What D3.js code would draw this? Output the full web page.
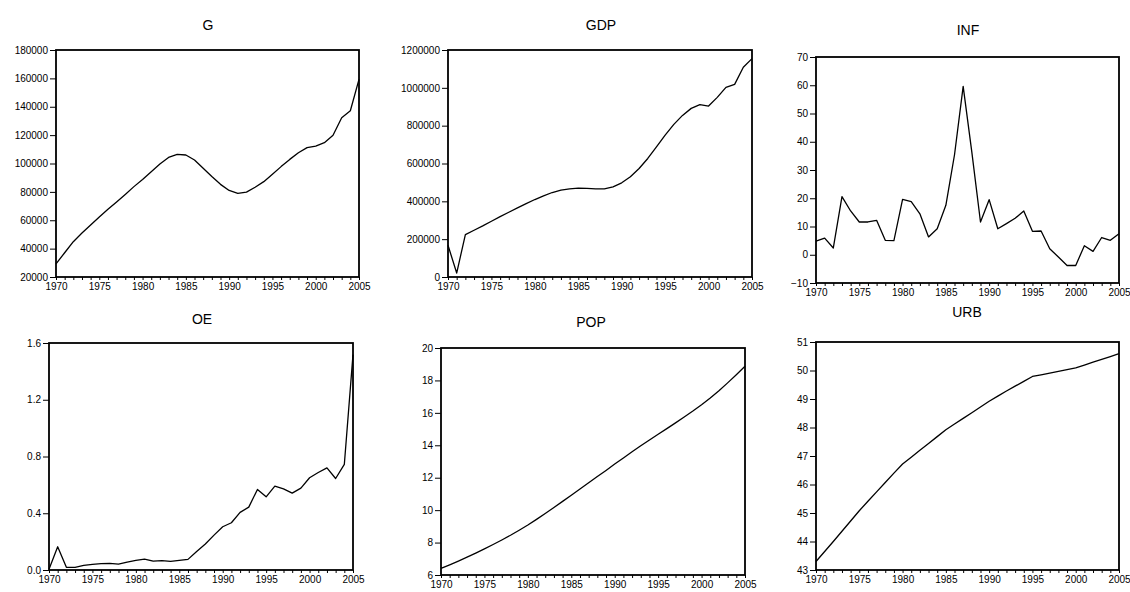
<!DOCTYPE html>
<html>
<head>
<meta charset="utf-8">
<script src="https://cdn.jsdelivr.net/npm/d3@7"></script>
<style>
  body { margin: 0; background: #fff; }
  svg { display: block; font-family: "Liberation Sans", Arial, sans-serif; }
  .tick text { font-size: 10px; fill: #000; }
  .tick line { stroke: #000; }
  .title { font-size: 14px; fill: #000; text-anchor: middle; }
</style>
</head>
<body>
<div id="chart"></div>
<script>
// years 1970..2005
var years = [1970,1971,1972,1973,1974,1975,1976,1977,1978,1979,1980,1981,1982,1983,1984,1985,1986,1987,
             1988,1989,1990,1991,1992,1993,1994,1995,1996,1997,1998,1999,2000,2001,2002,2003,2004,2005];

var gValues = [29200,37100,44900,51000,56700,62300,67700,72900,78200,83700,88800,94200,99600,104300,106500,106000,
               102500,96600,90800,85300,81000,79000,79800,83300,87200,92400,97800,102900,107600,111200,112300,114700,
               119900,132300,137200,159300];

var gdpValues = [167700,21000,224000,247000,270000,295000,319500,342500,365000,388000,409500,429000,446600,459000,
                 466000,469500,468000,466000,466000,476600,497800,529600,573700,626600,688400,750200,806700,854300,
                 891400,910800,903800,949700,1002600,1018500,1108500,1154400];

var infValues = [4.8,5.9,2.4,20.6,15.5,11.6,11.6,12.2,5.1,5.0,19.6,18.8,14.5,6.3,9.2,17.5,35.4,59.6,36.3,11.6,
                 19.5,9.2,11.0,12.9,15.5,8.3,8.4,2.1,-0.8,-3.8,-3.8,3.2,1.2,6.1,5.1,7.4];

var oeValues = [0.005,0.164,0.019,0.019,0.033,0.040,0.045,0.047,0.042,0.056,0.068,0.077,0.063,0.066,0.061,0.068,
                0.075,0.131,0.183,0.246,0.305,0.333,0.406,0.443,0.568,0.516,0.591,0.572,0.542,0.577,0.650,0.687,
                0.720,0.645,0.744,1.518];

var popValues = [6.41,6.63,6.86,7.10,7.35,7.61,7.88,8.16,8.45,8.76,9.08,9.43,9.79,10.16,10.54,10.92,11.30,11.69,
                 12.07,12.45,12.84,13.22,13.60,13.97,14.33,14.68,15.03,15.38,15.74,16.11,16.50,16.92,17.37,17.85,
                 18.35,18.87];

var urbValues = [43.30,43.65,44.00,44.36,44.72,45.08,45.41,45.74,46.07,46.40,46.72,46.96,47.20,47.44,47.68,47.92,
                 48.12,48.32,48.52,48.72,48.92,49.10,49.28,49.45,49.62,49.79,49.85,49.91,49.97,50.03,50.09,50.19,
                 50.29,50.39,50.49,50.59];

var titles = ["G", "GDP", "INF", "OE", "POP", "URB"];

var gTicks   = [20000,40000,60000,80000,100000,120000,140000,160000,180000];
var gdpTicks = [0,200000,400000,600000,800000,1000000,1200000];
var infTicks = [-10,0,10,20,30,40,50,60,70];
var oeTicks  = [0.0,0.4,0.8,1.2,1.6];
var popTicks = [6,8,10,12,14,16,18,20];
var urbTicks = [43,44,45,46,47,48,49,50,51];
var yearLabels = [1970,1975,1980,1985,1990,1995,2000,2005];

var series = [gValues, gdpValues, infValues, oeValues, popValues, urbValues];
var yTicks = [gTicks, gdpTicks, infTicks, oeTicks, popTicks, urbTicks];
var yFormats = [d3.format("d"), d3.format("d"), d3.format("d"), d3.format(".1f"), d3.format("d"), d3.format("d")];

// plot frames (left, top, right, bottom) and title position
var boxes = [
  {l: 56,  t: 50,  r: 359,  b: 277, tx: 208, ty: 30},
  {l: 448, t: 50,  r: 752,  b: 277, tx: 601, ty: 30},
  {l: 816, t: 57,  r: 1119, b: 283, tx: 968, ty: 35},
  {l: 49,  t: 343, r: 353,  b: 570, tx: 202, ty: 324},
  {l: 441, t: 348, r: 745,  b: 575, tx: 591, ty: 327},
  {l: 816, t: 342, r: 1119, b: 570, tx: 967, ty: 317}
];

var svg = d3.select("#chart").append("svg")
    .attr("width", 1130)
    .attr("height", 592);

series.forEach(function(vals, i){
  var box = boxes[i];
  var ticks = yTicks[i];

  var x = d3.scaleLinear().domain([1970, 2005]).range([box.l, box.r]);
  var y = d3.scaleLinear().domain([ticks[0], ticks[ticks.length - 1]]).range([box.b, box.t]);

  var g = svg.append("g");

  g.append("text").attr("class", "title")
    .attr("x", box.tx).attr("y", box.ty)
    .text(titles[i]);

  var yAxis = g.append("g")
    .attr("transform", "translate(" + box.l + ",0)")
    .call(d3.axisLeft(y).tickValues(ticks).tickFormat(yFormats[i]).tickSize(6).tickPadding(2));
  yAxis.select(".domain").remove();

  var xAxis = g.append("g")
    .attr("transform", "translate(0," + box.b + ")")
    .call(d3.axisBottom(x).tickValues(years).tickSize(3).tickPadding(3)
      .tickFormat(function(d){ return yearLabels.indexOf(d) >= 0 ? d : ""; }));
  xAxis.select(".domain").remove();

  var line = d3.line()
    .x(function(d, j){ return x(years[j]); })
    .y(function(d){ return y(d); });

  g.append("path")
    .datum(vals)
    .attr("d", line)
    .attr("fill", "none")
    .attr("stroke", "#000")
    .attr("stroke-width", 1.3)
    .attr("stroke-linejoin", "round");

  g.append("rect")
    .attr("x", box.l).attr("y", box.t)
    .attr("width", box.r - box.l).attr("height", box.b - box.t)
    .attr("fill", "none")
    .attr("stroke", "#000")
    .attr("stroke-width", 1.8);
});
</script>
</body>
</html>
